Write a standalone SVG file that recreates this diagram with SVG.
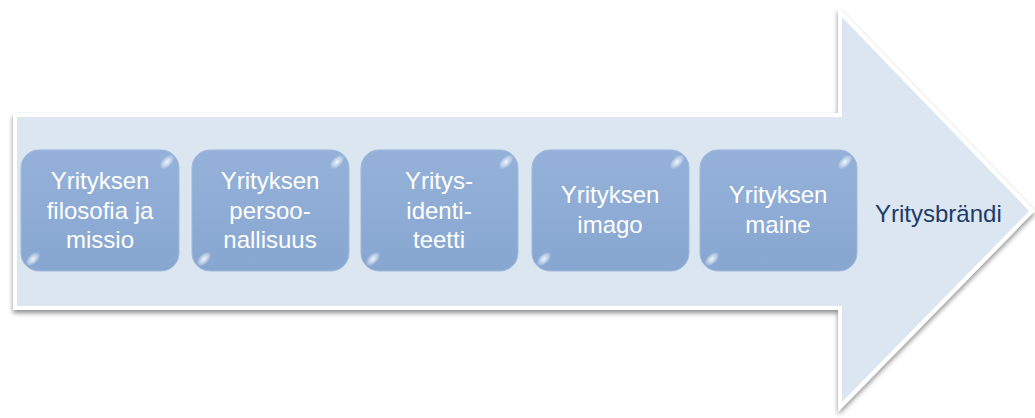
<svg xmlns="http://www.w3.org/2000/svg" width="1035" height="418" viewBox="0 0 1035 418">
<defs>
<filter id="sh" x="-5%" y="-5%" width="110%" height="115%">
<feGaussianBlur in="SourceAlpha" stdDeviation="2.5"/>
<feOffset dx="0" dy="3" result="b"/>
<feComponentTransfer><feFuncA type="linear" slope="0.45"/></feComponentTransfer>
<feMerge><feMergeNode/><feMergeNode in="SourceGraphic"/></feMerge>
</filter>
<linearGradient id="bx" x1="0" y1="0" x2="0" y2="1">
<stop offset="0" stop-color="#95b1d9"/>
<stop offset="0.5" stop-color="#8eacd5"/>
<stop offset="1" stop-color="#87a6d0"/>
</linearGradient>
<radialGradient id="hl">
<stop offset="0" stop-color="#ffffff" stop-opacity="0.9"/>
<stop offset="0.5" stop-color="#e8f0fa" stop-opacity="0.6"/>
<stop offset="1" stop-color="#ffffff" stop-opacity="0"/>
</radialGradient>
<g id="glint">
<ellipse cx="0" cy="0" rx="9" ry="5" fill="url(#hl)"/>
</g>
</defs>
<style>
.box{fill:url(#bx);stroke:#9fb9dd;stroke-width:1}
.t{font-family:"Liberation Sans",Arial,sans-serif;font-size:24px;fill:#ffffff;text-anchor:middle}
.brand{font-family:"Liberation Sans",Arial,sans-serif;font-size:24px;fill:#1f3b66}
</style>
<rect width="1035" height="418" fill="#ffffff"/>
<g id="arrow">
<path d="M15 115 L840 115 L840 12 L1032 211 L840 407 L840 308 L15 308 Z" fill="#dce6f1" stroke="#ffffff" stroke-width="4" stroke-linejoin="miter" filter="url(#sh)"/>
</g>
<g id="connectors"></g>
<g id="n1">
<rect class="box" x="21" y="150" width="158" height="121" rx="18"/>
<use href="#glint" transform="translate(167,162) rotate(-45)"/>
<use href="#glint" transform="translate(33,259) rotate(-45)"/>
<text class="t" x="100" y="189">Yrityksen</text>
<text class="t" x="100" y="219">filosofia ja</text>
<text class="t" x="100" y="248">missio</text>
</g>
<g id="n2">
<rect class="box" x="192" y="150" width="157" height="121" rx="18"/>
<use href="#glint" transform="translate(337,162) rotate(-45)"/>
<use href="#glint" transform="translate(204,259) rotate(-45)"/>
<text class="t" x="270" y="189">Yrityksen</text>
<text class="t" x="270" y="219">persoo-</text>
<text class="t" x="270" y="248">nallisuus</text>
</g>
<g id="n3">
<rect class="box" x="361" y="150" width="157" height="121" rx="18"/>
<use href="#glint" transform="translate(506,162) rotate(-45)"/>
<use href="#glint" transform="translate(373,259) rotate(-45)"/>
<text class="t" x="439" y="189">Yritys-</text>
<text class="t" x="439" y="219">identi-</text>
<text class="t" x="439" y="248">teetti</text>
</g>
<g id="n4">
<rect class="box" x="532" y="150" width="157" height="121" rx="18"/>
<use href="#glint" transform="translate(677,162) rotate(-45)"/>
<use href="#glint" transform="translate(544,259) rotate(-45)"/>
<text class="t" x="610" y="203">Yrityksen</text>
<text class="t" x="610" y="233">imago</text>
</g>
<g id="n5">
<rect class="box" x="700" y="150" width="157" height="121" rx="18"/>
<use href="#glint" transform="translate(845,162) rotate(-45)"/>
<use href="#glint" transform="translate(712,259) rotate(-45)"/>
<text class="t" x="778" y="203">Yrityksen</text>
<text class="t" x="778" y="233">maine</text>
</g>
<g id="n6">
<text class="brand" x="875" y="222">Yritysbrändi</text>
</g>
</svg>
